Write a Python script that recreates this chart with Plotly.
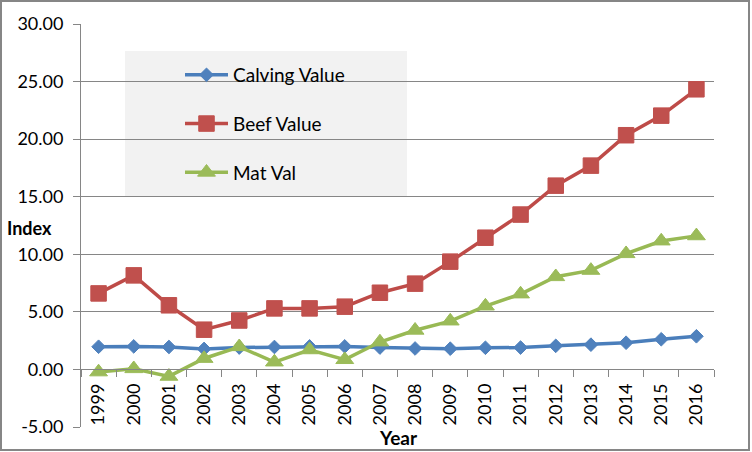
import plotly.graph_objects as go

years = [str(y) for y in range(1999, 2017)]
calving = [1.97, 2.0, 1.95, 1.78, 1.9, 1.95, 2.0, 2.0, 1.9, 1.82, 1.8, 1.88, 1.9, 2.05, 2.15, 2.32, 2.62, 2.88]
beef = [6.6, 8.17, 5.57, 3.45, 4.25, 5.3, 5.3, 5.45, 6.66, 7.45, 9.36, 11.44, 13.45, 15.96, 17.7, 20.34, 22.04, 24.33]
matval = [-0.22, 0.06, -0.6, 0.95, 1.97, 0.64, 1.7, 0.85, 2.38, 3.4, 4.2, 5.5, 6.55, 8.05, 8.6, 10.05, 11.15, 11.6]
ytick_vals = [-5, 0, 5, 10, 15, 20, 25, 30]
ytick_text = ["-5.00", "0.00", "5.00", "10.00", "15.00", "20.00", "25.00", "30.00"]

series = [
    ("Calving Value", calving, "#4A7EBB", "#4F81BD", "diamond", 10.5),
    ("Beef Value", beef, "#BE4B48", "#C0504D", "square", 15.5),
    ("Mat Val", matval, "#98B954", "#9BBB59", "triangle-up", 15.5),
]

GRAY = "#868686"
FONT = "Lato"

fig = go.Figure()
for i, (name, vals, lc, mc, sym, sz) in enumerate(series):
    fig.add_trace(go.Scatter(
        x=years, y=vals, name=name, mode="lines+markers",
        line=dict(color=lc, width=3.5),
        marker=dict(symbol=sym, size=sz, color=mc, line=dict(color=mc, width=1)),
        legendgroup=f"g{i}",
    ))

W, H = 752, 452
L, R, T, B = 81, 38, 24, 25
pw, ph = W - L - R, H - T - B

def px(x):
    return (x - L) / pw

def py(y):
    return (H - B - y) / ph

fig.update_layout(
    width=W, height=H,
    margin=dict(l=L, r=R, t=T, b=B, autoexpand=False),
    paper_bgcolor="white", plot_bgcolor="white",
    font=dict(family=FONT, size=18, color="black"),
    showlegend=True,
    legend=dict(
        x=px(180), y=py(56), xanchor="left", yanchor="top",
        bgcolor="rgba(0,0,0,0)", font=dict(family=FONT, size=19, color="black"),
        tracegroupgap=21, itemwidth=43, traceorder="grouped",
    ),
    xaxis=dict(
        type="category", anchor="free", position=5 / 35, automargin=False,
        showline=True, linecolor=GRAY, linewidth=1,
        ticks="outside", tickson="boundaries", ticklen=7, tickcolor=GRAY,
        tickangle=-90, showgrid=False, zeroline=False, ticklabelstandoff=6,
        tickfont=dict(family=FONT, size=18),
        range=[-0.5, 17.5],
    ),
    yaxis=dict(
        range=[-5, 30], tickmode="array", tickvals=ytick_vals, ticktext=ytick_text,
        automargin=False, ticklabelstandoff=6,
        showline=True, linecolor=GRAY, linewidth=1,
        ticks="outside", ticklen=7, tickcolor=GRAY,
        showgrid=True, gridcolor=GRAY, gridwidth=1, zeroline=False,
        tickfont=dict(family=FONT, size=18),
    ),
    shapes=[
        dict(type="rect", xref="paper", yref="paper", layer="below",
             x0=px(125), x1=px(407), y0=py(197), y1=py(51),
             fillcolor="#F2F2F2", line=dict(width=0)),
        dict(type="rect", xref="paper", yref="paper",
             x0=px(1), x1=px(749), y0=py(450), y1=py(1),
             line=dict(color=GRAY, width=2), fillcolor="rgba(0,0,0,0)"),
    ],
    annotations=[
        dict(text="<b>Index</b>", xref="paper", yref="paper", x=px(29), y=py(228),
             xanchor="center", yanchor="middle",
             showarrow=False, font=dict(family=FONT, size=18)),
        dict(text="<b>Year</b>", xref="paper", yref="paper", x=px(398), y=py(437),
             xanchor="center", yanchor="middle",
             showarrow=False, font=dict(family=FONT, size=19)),
    ],
)

fig.write_html(
    "out.html",
    config={"displayModeBar": False},
    post_script="document.body.style.margin='0';document.body.style.overflow='hidden';",
)
